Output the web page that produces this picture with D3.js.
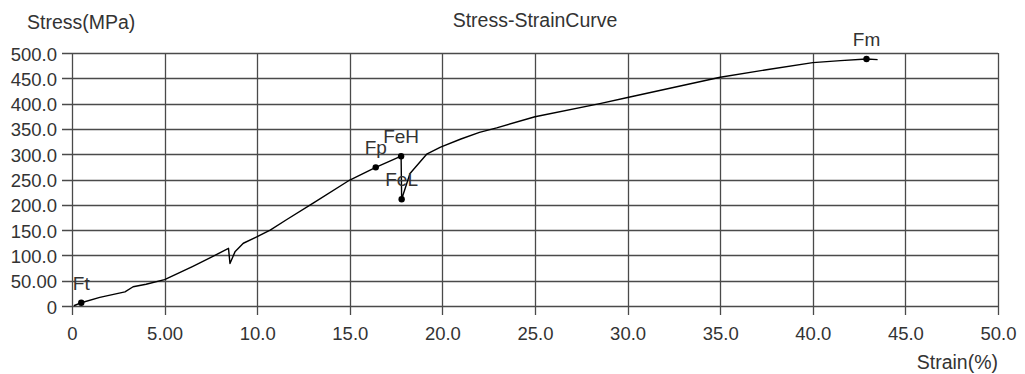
<!DOCTYPE html>
<html>
<head>
<meta charset="utf-8">
<script src="https://cdn.jsdelivr.net/npm/d3@7"></script>
<style>
  html, body { margin: 0; padding: 0; background: #fff; }
  svg { display: block; }
  text { font-family: "Liberation Sans", Arial, sans-serif; fill: #333; }
</style>
</head>
<body>
<svg id="chart" width="1025" height="374"></svg>
<script>
// ---- data ----
const strain = [0.1, 0.5, 1.5, 2.86, 3.3, 4.0, 5.0, 6.5, 7.5, 8.45, 8.53, 8.8, 9.25, 10.0, 10.7, 11.6, 13.0, 15.0, 16.4, 17.77, 17.8, 18.25, 19.15, 19.9, 21.0, 22.0, 22.93, 25.0, 28.5, 30.0, 35.0, 37.5, 40.0, 41.5, 42.9, 43.5];
const stress = [0.5, 6.5, 17, 28, 38, 43, 52, 78, 96, 114, 84, 107, 124, 137, 150, 171, 203, 249, 274, 296, 211, 262, 300, 314, 330, 343, 352, 374, 400, 412, 452, 467, 481, 485, 488, 487];

const markerNames = ["Ft", "Fp", "FeH", "FeL", "Fm"];
const markerStrain = [0.5, 16.4, 17.77, 17.8, 42.9];
const markerStress = [6.5, 274, 296, 211, 488];

const xTicks = [0, 5, 10, 15, 20, 25, 30, 35, 40, 45, 50];
const xTickLabels = ["0", "5.00", "10.0", "15.0", "20.0", "25.0", "30.0", "35.0", "40.0", "45.0", "50.0"];
const yTicks = [0, 50, 100, 150, 200, 250, 300, 350, 400, 450, 500];
const yTickLabels = ["0", "50.00", "100.0", "150.0", "200.0", "250.0", "300.0", "350.0", "400.0", "450.0", "500.0"];

const chartTitle = "Stress-StrainCurve";
const yTitle = "Stress(MPa)";
const xTitle = "Strain(%)";

// ---- layout ----
const svg = d3.select("#chart");
const L = 72, R = 998, T = 53, B = 306;
const x = d3.scaleLinear().domain([0, 50]).range([L, R]);
const y = d3.scaleLinear().domain([0, 500]).range([B, T]);
const px = v => Math.round(v) + 0.5;

const gridColor = "#4a4a4a";

// grid
const grid = svg.append("g");
grid.selectAll("line.v").data(xTicks).enter().append("line")
  .attr("x1", d => px(x(d))).attr("x2", d => px(x(d)))
  .attr("y1", T).attr("y2", B + 9)
  .attr("stroke", gridColor).attr("stroke-width", 1.3);
grid.selectAll("line.h").data(yTicks).enter().append("line")
  .attr("x1", L - 10).attr("x2", R)
  .attr("y1", d => px(y(d))).attr("y2", d => px(y(d)))
  .attr("stroke", gridColor).attr("stroke-width", 1.3);

// axes labels via d3 axes (ticks hidden, labels only)
const xAxis = d3.axisBottom(x).tickValues(xTicks)
  .tickFormat((d, i) => xTickLabels[i]).tickSize(0).tickPadding(0);
const gx = svg.append("g").attr("transform", `translate(0,${B})`).call(xAxis);
gx.select(".domain").remove();
gx.selectAll("text").attr("y", 34).attr("dy", 0)
  .style("font-size", "18.5px").style("fill", "#333")
  .style("font-family", '"Liberation Sans", Arial, sans-serif');

const yAxis = d3.axisLeft(y).tickValues(yTicks)
  .tickFormat((d, i) => yTickLabels[i]).tickSize(0).tickPadding(0);
const gy = svg.append("g").attr("transform", `translate(${L},0)`).call(yAxis);
gy.select(".domain").remove();
gy.selectAll("text").attr("x", -15).attr("dy", "0.38em")
  .style("font-size", "18.5px").style("fill", "#333")
  .style("font-family", '"Liberation Sans", Arial, sans-serif');

// curve
const pts = strain.map((s, i) => [s, stress[i]]);
const line = d3.line().x(d => x(d[0])).y(d => y(d[1]));
svg.append("path").datum(pts)
  .attr("d", line)
  .attr("fill", "none").attr("stroke", "#000").attr("stroke-width", 1.4)
  .attr("stroke-linejoin", "round");

// markers
const mk = markerNames.map((n, i) => ({ n, s: markerStrain[i], v: markerStress[i] }));
svg.selectAll("circle.m").data(mk).enter().append("circle")
  .attr("cx", d => x(d.s)).attr("cy", d => y(d.v)).attr("r", 3.2).attr("fill", "#000");
svg.selectAll("text.m").data(mk).enter().append("text")
  .attr("x", d => x(d.s)).attr("y", d => y(d.v) - 13)
  .attr("text-anchor", "middle").style("font-size", "19px")
  .text(d => d.n);

// titles
svg.append("text").attr("x", 27).attr("y", 28.5).style("font-size", "19.5px").text(yTitle);
svg.append("text").attr("x", (L + R) / 2).attr("y", 27).attr("text-anchor", "middle")
  .style("font-size", "19.5px").text(chartTitle);
svg.append("text").attr("x", R).attr("y", 368.5).attr("text-anchor", "end")
  .style("font-size", "19.5px").text(xTitle);
</script>
</body>
</html>
